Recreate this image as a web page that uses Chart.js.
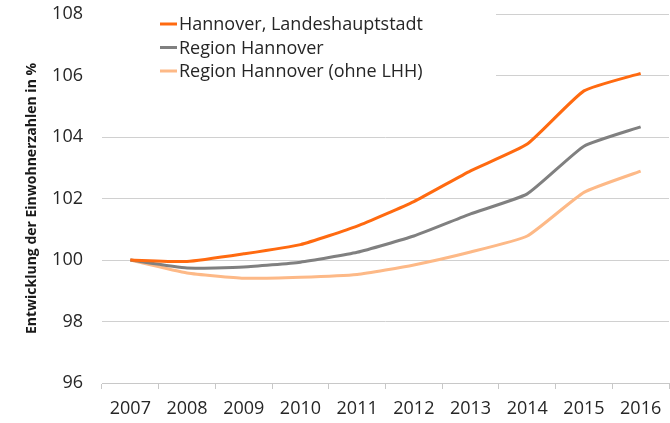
<!DOCTYPE html>
<html>
<head>
<meta charset="utf-8">
<script src="https://cdn.jsdelivr.net/npm/chart.js@4"></script>
<style>
  html, body { margin: 0; padding: 0; background: #fff; }
  #wrap { width: 670px; height: 423px; position: relative; }
</style>
</head>
<body>
<div id="wrap"><canvas id="c" width="670" height="423"></canvas></div>
<script>
const years = ['2007','2008','2009','2010','2011','2012','2013','2014','2015','2016'];
const hannoverLHH = [100, 99.95, 100.2, 100.5, 101.1, 101.9, 102.9, 103.77, 105.5, 106.07];
const regionHannover = [100, 99.74, 99.77, 99.93, 100.25, 100.78, 101.5, 102.15, 103.7, 104.33];
const regionOhneLHH = [100, 99.58, 99.41, 99.44, 99.53, 99.84, 100.26, 100.78, 102.2, 102.89];
const seriesNames = ['Hannover, Landeshauptstadt', 'Region Hannover', 'Region Hannover (ohne LHH)'];
const seriesColors = ['#FF6A10', '#808080', '#FDB987'];
const yTitle = 'Entwicklung der Einwohnerzahlen in %';
const yMin = 96, yMax = 108, yStep = 2;

const legendPlugin = {
  id: 'insideLegend',
  beforeDatasetsDraw(chart) {
    const ctx = chart.ctx;
    const a = chart.chartArea;
    ctx.save();
    ctx.fillStyle = '#ffffff';
    ctx.fillRect(a.left, 0, 394, 88);
    ctx.font = '18px "Open Sans"';
    ctx.textBaseline = 'middle';
    chart.data.datasets.forEach((ds, i) => {
      const y = 24 + i * 23.5;
      ctx.strokeStyle = ds.borderColor;
      ctx.lineWidth = 3;
      ctx.beginPath();
      ctx.moveTo(160, y);
      ctx.lineTo(177, y);
      ctx.stroke();
      ctx.fillStyle = '#262626';
      ctx.fillText(ds.label, 179, y + 1);
    });
    ctx.restore();
  }
};

new Chart(document.getElementById('c'), {
  type: 'line',
  data: {
    labels: years,
    datasets: [
      { label: seriesNames[0], data: hannoverLHH, borderColor: seriesColors[0] },
      { label: seriesNames[1], data: regionHannover, borderColor: seriesColors[1] },
      { label: seriesNames[2], data: regionOhneLHH, borderColor: seriesColors[2] }
    ].map(d => Object.assign(d, { borderWidth: 3, pointRadius: 0, tension: 0.15, fill: false }))
  },
  options: {
    responsive: false,
    animation: false,
    layout: { padding: { top: 14, right: 1, left: 0, bottom: 0 } },
    plugins: { legend: { display: false }, tooltip: { enabled: false } },
    scales: {
      x: {
        offset: true,
        grid: { offset: true, drawOnChartArea: false, drawTicks: true, tickLength: 6, color: '#c8c8c8' },
        border: { color: '#c8c8c8' },
        ticks: { font: { family: 'Open Sans', size: 18 }, color: '#262626', padding: 9, maxRotation: 0, autoSkip: false },
        afterFit(s) { s.height = 40; s.paddingLeft = 0; s.paddingRight = 0; }
      },
      y: {
        min: yMin, max: yMax,
        grid: { color: '#d0d0d0', drawTicks: false },
        border: { display: false },
        ticks: { stepSize: yStep, font: { family: 'Open Sans', size: 18 }, color: '#262626', padding: 19 },
        title: { display: true, text: yTitle, font: { family: 'Open Sans', size: 14, weight: 'bold' }, color: '#1a1a1a', padding: { top: 24, bottom: 0 } },
        afterFit(s) { s.width = 102; s.paddingTop = 0; s.paddingBottom = 0; }
      }
    }
  },
  plugins: [legendPlugin]
});
</script>
</body>
</html>
